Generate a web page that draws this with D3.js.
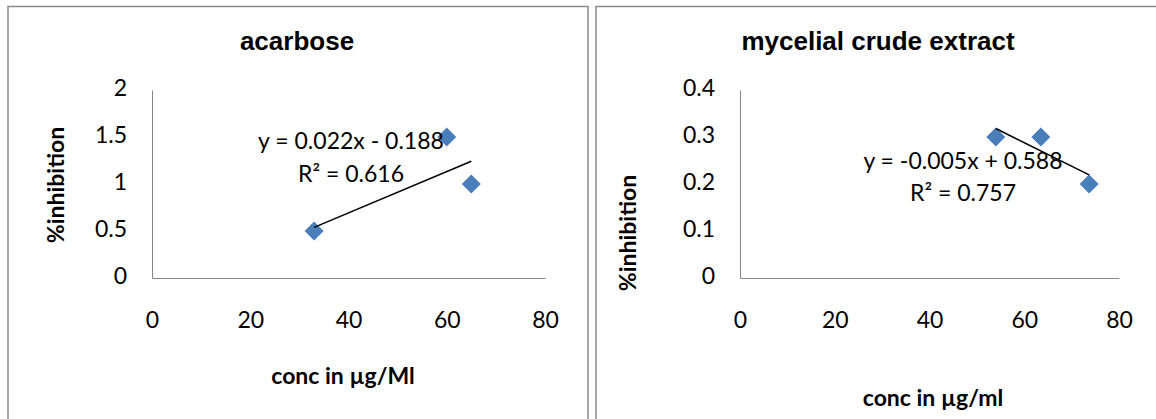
<!DOCTYPE html>
<html>
<head>
<meta charset="utf-8">
<script src="https://cdn.jsdelivr.net/npm/d3@7"></script>
<style>
  body { margin: 0; background: #fff; }
  text { font-family: Lato, "Open Sans", sans-serif; fill: #000; }
</style>
</head>
<body>
<script>
// data
var xTicks = [0, 20, 40, 60, 80];

var acarboseConc = [33, 60, 65];
var acarboseInhib = [0.5, 1.5, 1.0];
var acarboseYTicks = [0, 0.5, 1, 1.5, 2];
var acarboseFit = [0.022, -0.188];
var acarboseEq = ['y = 0.022x - 0.188', 'R² = 0.616'];

var myceliaConc = [54, 63.5, 73.7];
var myceliaInhib = [0.3, 0.3, 0.2];
var myceliaYTicks = [0, 0.1, 0.2, 0.3, 0.4];
var myceliaFit = [-0.005, 0.588];
var myceliaEq = ['y = -0.005x + 0.588', 'R² = 0.757'];

var fs = 23;

var svg = d3.select('body').append('svg').attr('width', 1156).attr('height', 419);
svg.append('rect').attr('width', 1156).attr('height', 419).attr('fill', '#fff');

var charts = [
  { title: 'acarbose', xTitle: 'conc in µg/Ml', conc: acarboseConc, inhib: acarboseInhib,
    yTicks: acarboseYTicks, fit: acarboseFit, eq: acarboseEq,
    box: [8, 6.5, 580, 500], plot: [152, 545, 90, 278], titleX: 297,
    xTitlePos: [343, 378], yTitlePos: [58, 185], eqPos: [351, 143, 176] },
  { title: 'mycelial crude extract', xTitle: 'conc in µg/ml', conc: myceliaConc, inhib: myceliaInhib,
    yTicks: myceliaYTicks, fit: myceliaFit, eq: myceliaEq,
    box: [596, 6.5, 600, 500], plot: [740, 1119, 90, 278], titleX: 878,
    xTitlePos: [933, 400], yTitlePos: [630, 233], eqPos: [963, 163, 195] }
];

charts.forEach(function(c) {
  svg.append('rect').attr('x', c.box[0]).attr('y', c.box[1]).attr('width', c.box[2]).attr('height', c.box[3])
    .attr('fill', 'none').attr('stroke', '#8a8a8a').attr('stroke-width', 1.5);

  var x = d3.scaleLinear().domain([0, 80]).range([c.plot[0], c.plot[1]]);
  var y = d3.scaleLinear().domain([0, d3.max(c.yTicks)]).range([c.plot[3], c.plot[2]]);

  var g = svg.append('g');

  // axes, no tick marks
  var xa = g.append('g').attr('transform', 'translate(0,' + c.plot[3] + ')')
    .call(d3.axisBottom(x).tickValues(xTicks).tickSize(0).tickPadding(0).tickFormat(d3.format('d')));
  xa.select('.domain').attr('stroke', '#868686');
  xa.selectAll('text').attr('font-size', fs).attr('y', 44).attr('dy', 0)
    .attr('dominant-baseline', 'middle');

  var ya = g.append('g').attr('transform', 'translate(' + c.plot[0] + ',0)')
    .call(d3.axisLeft(y).tickValues(c.yTicks).tickSize(0).tickPadding(0).tickFormat(function(d) { return d; }));
  ya.select('.domain').attr('stroke', '#868686');
  ya.selectAll('text').attr('font-size', fs).attr('x', -25).attr('dy', 0)
    .attr('dominant-baseline', 'middle');
  g.selectAll('.tick text').style('font-family', 'Lato, sans-serif').attr('fill', '#000');

  // title
  svg.append('text').attr('x', c.titleX).attr('y', 43).attr('text-anchor', 'middle')
    .attr('dominant-baseline', 'middle').style('font-family', '"Liberation Sans", Arial, sans-serif')
    .attr('font-weight', 'bold').attr('font-size', 26).text(c.title);

  // axis titles
  svg.append('text').attr('x', c.xTitlePos[0]).attr('y', c.xTitlePos[1]).attr('text-anchor', 'middle')
    .attr('dominant-baseline', 'middle').attr('font-weight', 'bold').attr('font-size', fs).text(c.xTitle);
  svg.append('text').attr('transform', 'translate(' + c.yTitlePos[0] + ',' + c.yTitlePos[1] + ') rotate(-90)')
    .attr('text-anchor', 'middle').attr('dominant-baseline', 'middle')
    .attr('font-weight', 'bold').attr('font-size', fs).text('%inhibition');

  // points
  var pts = c.conc.map(function(v, i) { return [v, c.inhib[i]]; });
  g.selectAll('path.pt').data(pts).enter().append('path').attr('class', 'pt')
    .attr('transform', function(d) { return 'translate(' + x(d[0]) + ',' + y(d[1]) + ')'; })
    .attr('d', 'M0,-9.5L9.5,0L0,9.5L-9.5,0Z').attr('fill', '#4a7ebb');

  // linear trendline over data range
  var xs = d3.extent(c.conc);
  g.append('line')
    .attr('x1', x(xs[0])).attr('y1', y(c.fit[0] * xs[0] + c.fit[1]))
    .attr('x2', x(xs[1])).attr('y2', y(c.fit[0] * xs[1] + c.fit[1]))
    .attr('stroke', '#000').attr('stroke-width', 1.5);

  // equation label
  svg.append('text').attr('x', c.eqPos[0]).attr('y', c.eqPos[1]).attr('text-anchor', 'middle')
    .attr('dominant-baseline', 'middle').attr('font-size', fs).text(c.eq[0]);
  svg.append('text').attr('x', c.eqPos[0]).attr('y', c.eqPos[2]).attr('text-anchor', 'middle')
    .attr('dominant-baseline', 'middle').attr('font-size', fs).text(c.eq[1]);
});
</script>
</body>
</html>
